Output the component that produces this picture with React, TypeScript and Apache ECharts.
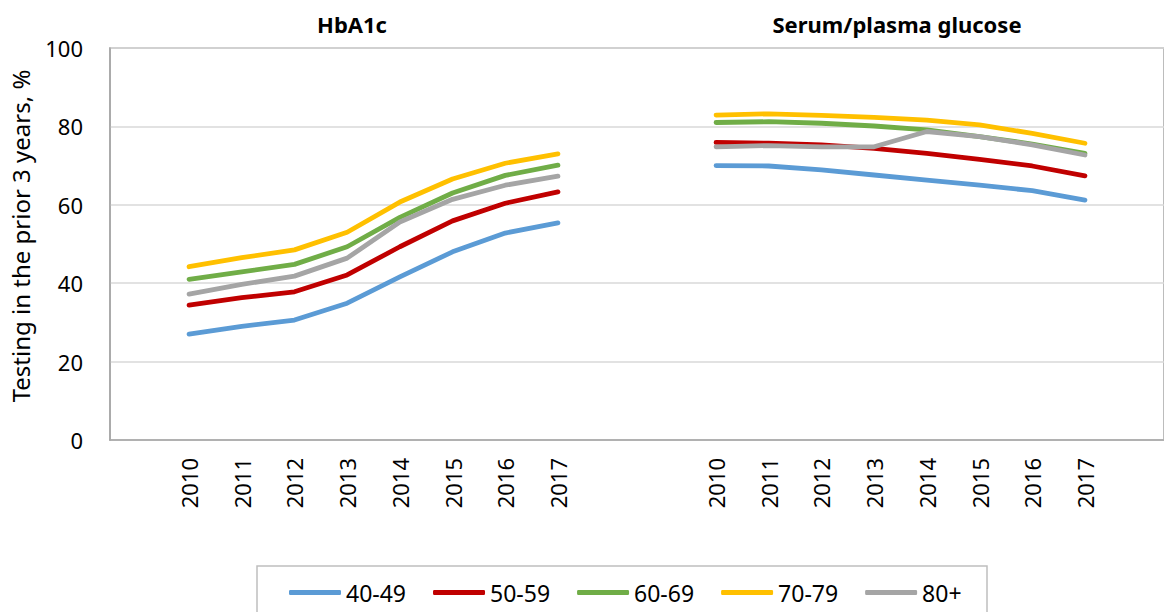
import React, { useEffect, useRef } from "react";
import * as echarts from "echarts";

const years = ["2010", "2011", "2012", "2013", "2014", "2015", "2016", "2017"];
const groupTitles = ["HbA1c", "Serum/plasma glucose"];
const yAxisTitle = "Testing in the prior 3 years, %";
const seriesNames = ["40-49", "50-59", "60-69", "70-79", "80+"];
const colors = ["#5b9bd5", "#c00000", "#70ad47", "#ffc000", "#a5a5a5"];

// HbA1c testing, % (2010..2017)
const hba1c_40_49 = [27.0, 29.0, 30.6, 34.9, 41.6, 48.0, 52.8, 55.4];
const hba1c_50_59 = [34.4, 36.3, 37.8, 42.1, 49.3, 55.9, 60.4, 63.3];
const hba1c_60_69 = [41.0, 42.9, 44.8, 49.3, 56.8, 63.0, 67.5, 70.1];
const hba1c_70_79 = [44.2, 46.5, 48.5, 53.0, 60.7, 66.6, 70.6, 73.0];
const hba1c_80p = [37.2, 39.7, 41.8, 46.4, 55.6, 61.4, 65.0, 67.3];

// Serum/plasma glucose testing, % (2010..2017)
const gluc_40_49 = [70.0, 69.9, 68.9, 67.6, 66.3, 65.0, 63.6, 61.2];
const gluc_50_59 = [75.9, 75.7, 75.3, 74.4, 73.1, 71.6, 69.9, 67.4];
const gluc_60_69 = [81.0, 81.2, 80.8, 80.1, 79.1, 77.4, 75.5, 73.1];
const gluc_70_79 = [82.9, 83.2, 82.8, 82.3, 81.6, 80.4, 78.2, 75.7];
const gluc_80p = [74.8, 75.1, 74.8, 74.8, 78.7, 77.4, 75.3, 72.7];

const hba1cSets = [hba1c_40_49, hba1c_50_59, hba1c_60_69, hba1c_70_79, hba1c_80p];
const glucSets = [gluc_40_49, gluc_50_59, gluc_60_69, gluc_70_79, gluc_80p];

const yTicks = { min: 0, max: 100, interval: 20 };

const categories = ["", ...years, "", "", ...years, ""];

const FONT = "'Noto Sans', 'Open Sans', sans-serif";

export default function App() {
  const ref = useRef<HTMLDivElement>(null);
  useEffect(() => {
    if (!ref.current) return;
    const chart = echarts.init(ref.current, null, { renderer: "svg" });
    const series = seriesNames.map((name, i) => ({
      name,
      type: "line",
      data: [null, ...hba1cSets[i], null, null, ...glucSets[i], null],
      symbol: "none",
      showSymbol: false,
      connectNulls: false,
      smooth: false,
      lineStyle: { color: colors[i], width: 4.8, cap: "round", join: "round" },
      itemStyle: { color: colors[i] },
    }));
    chart.setOption({
      animation: false,
      backgroundColor: "#ffffff",
      textStyle: { fontFamily: FONT },
      grid: {
        left: 110,
        top: 48,
        right: -4,
        bottom: 172,
        show: true,
        borderColor: "#a6a6a6",
        borderWidth: 1.5,
      },
      xAxis: {
        type: "category",
        data: categories,
        boundaryGap: true,
        axisLine: { show: true, lineStyle: { color: "#a6a6a6", width: 1.5 } },
        axisTick: { show: false },
        axisLabel: {
          rotate: 90,
          interval: 0,
          margin: 18,
          color: "#000",
          fontSize: 22,
          fontFamily: FONT,
        },
        splitLine: { show: false },
      },
      yAxis: {
        type: "value",
        min: yTicks.min,
        max: yTicks.max,
        interval: yTicks.interval,
        axisLine: { show: true, lineStyle: { color: "#a6a6a6", width: 1.5 } },
        axisTick: { show: false },
        axisLabel: { color: "#000", fontSize: 22, margin: 27, fontFamily: FONT },
        splitLine: { show: true, lineStyle: { color: "#d9d9d9", width: 1.5 } },
      },
      legend: {
        data: seriesNames.map((n) => ({ name: n, icon: "roundRect" })),
        left: 284,
        top: 576,
        itemWidth: 52,
        itemHeight: 5,
        itemGap: 27,
        textStyle: { fontSize: 23, color: "#000", fontFamily: FONT },
      },
      graphic: [
        {
          type: "text",
          x: 20,
          y: 236,
          rotation: Math.PI / 2,
          style: {
            text: yAxisTitle,
            font: `24px ${FONT}`,
            fill: "#000",
            textAlign: "center",
            textVerticalAlign: "middle",
          },
        },
        {
          type: "text",
          x: 352,
          y: 24,
          style: {
            text: groupTitles[0],
            font: `bold 22px ${FONT}`,
            fill: "#000",
            textAlign: "center",
            textVerticalAlign: "middle",
          },
        },
        {
          type: "text",
          x: 897,
          y: 24,
          style: {
            text: groupTitles[1],
            font: `bold 22px ${FONT}`,
            fill: "#000",
            textAlign: "center",
            textVerticalAlign: "middle",
          },
        },
        {
          type: "rect",
          shape: { x: 257, y: 566, width: 730, height: 60 },
          style: { fill: "none", stroke: "#bfbfbf", lineWidth: 1.5 },
          z: -1,
        },
      ],
      series,
    });
    return () => chart.dispose();
  }, []);
  return (
    <div
      ref={ref}
      style={{ position: "fixed", left: 0, top: 0, width: 1164, height: 612 }}
    />
  );
}
